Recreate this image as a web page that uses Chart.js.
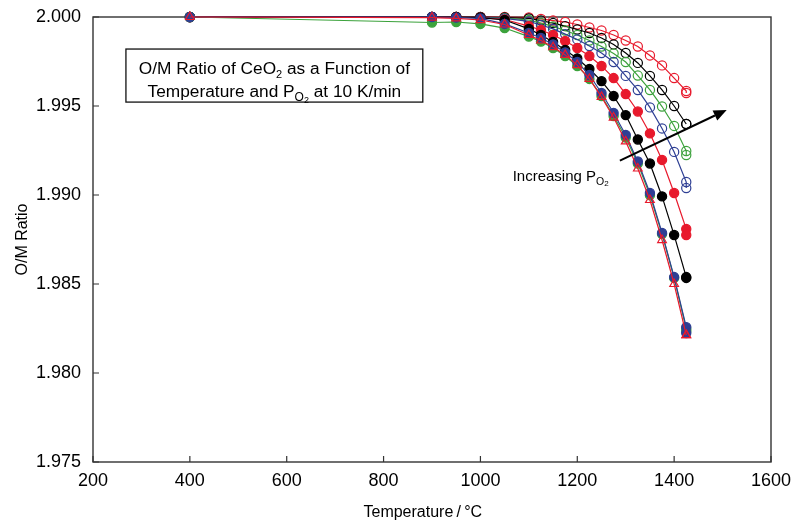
<!DOCTYPE html>
<html><head><meta charset="utf-8">
<script src="https://cdn.jsdelivr.net/npm/chart.js@4.4.1/dist/chart.umd.min.js"></script>
<style>html,body{margin:0;padding:0;background:#fff;}canvas{display:block;}</style>
</head><body>
<canvas id="c" width="802" height="526"></canvas>
<script>
// Temperatures (°C); the last point is a repeated reading at 1425 °C
const temperatures = [400, 900, 950, 1000, 1050, 1100, 1125, 1150, 1175, 1200, 1225, 1250, 1275, 1300, 1325, 1350, 1375, 1400, 1425, 1425];

// O/M ratio series (lowest PO2 first)
const redTriangleOpen = [2.00000, 1.99997, 1.99992, 1.99983, 1.99958, 1.99899, 1.99868, 1.99831, 1.99787, 1.99730, 1.99652, 1.99551, 1.99435, 1.99301, 1.99149, 1.98972, 1.98747, 1.98500, 1.98213, 1.98213];
const blueFilled      = [2.00000, 2.00000, 1.99997, 1.99992, 1.99961, 1.99910, 1.99882, 1.99846, 1.99801, 1.99747, 1.99674, 1.99573, 1.99461, 1.99337, 1.99188, 1.99011, 1.98787, 1.98539, 1.98258, 1.98225];
const greenFilled     = [2.00000, 1.99969, 1.99972, 1.99961, 1.99938, 1.99890, 1.99862, 1.99826, 1.99781, 1.99725, 1.99652, 1.99556, 1.99444, 1.99323, 1.99177, 1.98999, 1.98781, 1.98534, 1.98247, 1.98236];
const blackFilled     = [2.00000, 2.00000, 2.00000, 1.99997, 1.99983, 1.99933, 1.99899, 1.99860, 1.99815, 1.99767, 1.99708, 1.99640, 1.99556, 1.99449, 1.99312, 1.99177, 1.98992, 1.98775, 1.98539, 1.98534];
const redFilled       = [2.00000, 2.00000, 2.00000, 1.99997, 1.99986, 1.99949, 1.99927, 1.99899, 1.99865, 1.99826, 1.99781, 1.99725, 1.99657, 1.99567, 1.99469, 1.99346, 1.99197, 1.99011, 1.98809, 1.98775];
const blueOpen        = [2.00000, 2.00000, 2.00000, 1.99997, 1.99992, 1.99975, 1.99955, 1.99933, 1.99904, 1.99874, 1.99837, 1.99798, 1.99747, 1.99669, 1.99590, 1.99492, 1.99374, 1.99242, 1.99073, 1.99039];
const greenOpen       = [2.00000, 2.00000, 2.00000, 1.99997, 1.99994, 1.99983, 1.99966, 1.99947, 1.99924, 1.99899, 1.99868, 1.99834, 1.99795, 1.99747, 1.99671, 1.99590, 1.99497, 1.99388, 1.99247, 1.99225];
const blackOpen       = [2.00000, 2.00000, 2.00000, 2.00000, 1.99997, 1.99992, 1.99980, 1.99966, 1.99949, 1.99930, 1.99910, 1.99882, 1.99846, 1.99798, 1.99742, 1.99669, 1.99590, 1.99500, 1.99399, 1.99399];
const redOpen         = [2.00000, 2.00000, 2.00000, 2.00000, 2.00000, 1.99997, 1.99989, 1.99980, 1.99972, 1.99958, 1.99941, 1.99924, 1.99899, 1.99868, 1.99834, 1.99784, 1.99728, 1.99657, 1.99584, 1.99573];

const xTickValues = [200, 400, 600, 800, 1000, 1200, 1400, 1600];
const yTickValues = [1.975, 1.980, 1.985, 1.990, 1.995, 2.000];

const RED = '#e8192c', BLACK = '#000000', GREEN = '#3ca23c', BLUE = '#2e3f94';
const FONT = '"Liberation Sans", Arial, sans-serif';

function series(label, values, color, style, filled) {
  return {
    label,
    data: temperatures.map((t, i) => ({ x: t, y: values[i] })),
    borderColor: color,
    backgroundColor: filled ? color : 'rgba(0,0,0,0)',
    pointBackgroundColor: filled ? color : 'rgba(0,0,0,0)',
    pointBorderColor: color,
    pointStyle: style,
    pointRadius: style === 'triangle' ? 5 : 4.6,
    pointBorderWidth: 1.2,
    borderWidth: 1.2,
    showLine: true,
    tension: 0,
    fill: false,
    clip: false
  };
}

const datasets = [
  series('Red triangles', redTriangleOpen, RED, 'triangle', false),
  series('Blue filled', blueFilled, BLUE, 'circle', true),
  series('Green filled', greenFilled, GREEN, 'circle', true),
  series('Black filled', blackFilled, BLACK, 'circle', true),
  series('Red filled', redFilled, RED, 'circle', true),
  series('Blue open', blueOpen, BLUE, 'circle', false),
  series('Green open', greenOpen, GREEN, 'circle', false),
  series('Black open', blackOpen, BLACK, 'circle', false),
  series('Red open', redOpen, RED, 'circle', false)
];

// annotation anchors in data units
const noteBox = { x1: 268, x2: 881, y1: 1.99820, y2: 1.99522 };
const arrowFrom = { x: 1288, y: 1.99193 };
const arrowTo = { x: 1508.5, y: 1.99478 };
const incLabel = { x: 1066.6, y: 1.99080 };
const xTitle = { text: 'Temperature\u2009/\u2009°C', x: 881 };

function drawRich(ctx, segs, x, y, align) {
  let total = 0;
  segs.forEach(s => { ctx.font = s.size + 'px ' + FONT; s.w = ctx.measureText(s.t).width; total += s.w; });
  let cx = align === 'center' ? x - total / 2 : x;
  ctx.textAlign = 'left';
  ctx.textBaseline = 'alphabetic';
  segs.forEach(s => { ctx.font = s.size + 'px ' + FONT; ctx.fillText(s.t, cx, y + (s.dy || 0)); cx += s.w; });
}

const framePlugin = {
  id: 'frame',
  beforeDatasetsDraw(chart) {
    const { ctx, chartArea: a, scales } = chart;
    ctx.save();
    ctx.strokeStyle = '#333';
    ctx.lineWidth = 1.4;
    ctx.strokeRect(a.left, a.top, a.right - a.left, a.bottom - a.top);
    ctx.lineWidth = 1.2;
    ctx.beginPath();
    xTickValues.forEach(v => { const px = scales.x.getPixelForValue(v); ctx.moveTo(px, a.bottom); ctx.lineTo(px, a.bottom - 6); });
    yTickValues.forEach(v => { const py = scales.y.getPixelForValue(v); ctx.moveTo(a.left, py); ctx.lineTo(a.left + 6, py); });
    ctx.stroke();
    ctx.restore();
  },
  afterDatasetsDraw(chart) {
    const { ctx, scales } = chart;
    const X = v => scales.x.getPixelForValue(v), Y = v => scales.y.getPixelForValue(v);
    ctx.save();
    // note box
    const bx1 = X(noteBox.x1), bx2 = X(noteBox.x2), by1 = Y(noteBox.y1), by2 = Y(noteBox.y2);
    ctx.fillStyle = '#fff';
    ctx.fillRect(bx1, by1, bx2 - bx1, by2 - by1);
    ctx.strokeStyle = '#111';
    ctx.lineWidth = 1.3;
    ctx.strokeRect(bx1, by1, bx2 - bx1, by2 - by1);
    ctx.fillStyle = '#000';
    const cx = (bx1 + bx2) / 2;
    drawRich(ctx, [{ t: 'O/M Ratio of CeO', size: 17.3 }, { t: '2', size: 11, dy: 4 }, { t: ' as a Function of', size: 17.3 }], cx, by1 + 25, 'center');
    drawRich(ctx, [{ t: 'Temperature and P', size: 17.3 }, { t: 'O', size: 12, dy: 4.5 }, { t: '2', size: 9, dy: 6 }, { t: ' at 10 K/min', size: 17.3 }], cx, by1 + 47.5, 'center');
    // increasing label
    drawRich(ctx, [{ t: 'Increasing P', size: 15 }, { t: 'O', size: 10.5, dy: 4.3 }, { t: '2', size: 8, dy: 5 }], X(incLabel.x), Y(incLabel.y), 'left');
    // arrow
    const x0 = X(arrowFrom.x), y0 = Y(arrowFrom.y), x1 = X(arrowTo.x), y1 = Y(arrowTo.y);
    const ang = Math.atan2(y1 - y0, x1 - x0);
    const hl = 13, hw = 5.5;
    const bxp = x1 - hl * Math.cos(ang), byp = y1 - hl * Math.sin(ang);
    ctx.strokeStyle = '#000';
    ctx.lineWidth = 2;
    ctx.beginPath(); ctx.moveTo(x0, y0); ctx.lineTo(bxp, byp); ctx.stroke();
    ctx.beginPath();
    ctx.moveTo(x1, y1);
    ctx.lineTo(bxp + hw * Math.sin(ang), byp - hw * Math.cos(ang));
    ctx.lineTo(bxp - hw * Math.sin(ang), byp + hw * Math.cos(ang));
    ctx.closePath();
    ctx.fillStyle = '#000';
    ctx.fill();
    // x axis title
    ctx.font = '16px ' + FONT;
    ctx.textAlign = 'center';
    ctx.textBaseline = 'middle';
    ctx.fillText(xTitle.text, X(xTitle.x), 513);
    ctx.restore();
  }
};

new Chart(document.getElementById('c'), {
  type: 'scatter',
  data: { datasets },
  options: {
    responsive: false,
    animation: false,
    events: [],
    layout: { padding: { top: 17, right: 31, left: 0, bottom: 0 } },
    plugins: { legend: { display: false }, tooltip: { enabled: false }, title: { display: false } },
    scales: {
      x: {
        type: 'linear', position: 'bottom', min: 200, max: 1600,
        grid: { display: false, drawTicks: false },
        border: { display: false },
        afterBuildTicks: s => { s.ticks = xTickValues.map(v => ({ value: v })); },
        afterFit: s => { s.height = 64; s.paddingLeft = 0; s.paddingRight = 0; },
        ticks: { color: '#000', padding: 8, font: { family: FONT, size: 18 }, maxRotation: 0, callback: v => String(v) },
        title: { display: false }
      },
      y: {
        type: 'linear', position: 'left', min: 1.975, max: 2.000,
        grid: { display: false, drawTicks: false },
        border: { display: false },
        afterBuildTicks: s => { s.ticks = yTickValues.map(v => ({ value: v })); },
        afterFit: s => { s.width = 93; s.paddingTop = 0; s.paddingBottom = 0; },
        ticks: { color: '#000', padding: 12, font: { family: FONT, size: 18 }, callback: v => Number(v).toFixed(3) },
        title: { display: true, text: 'O/M Ratio', color: '#000', font: { family: FONT, size: 16 }, padding: { top: 13, bottom: 0 } }
      }
    }
  },
  plugins: [framePlugin]
});
</script>
</body></html>
